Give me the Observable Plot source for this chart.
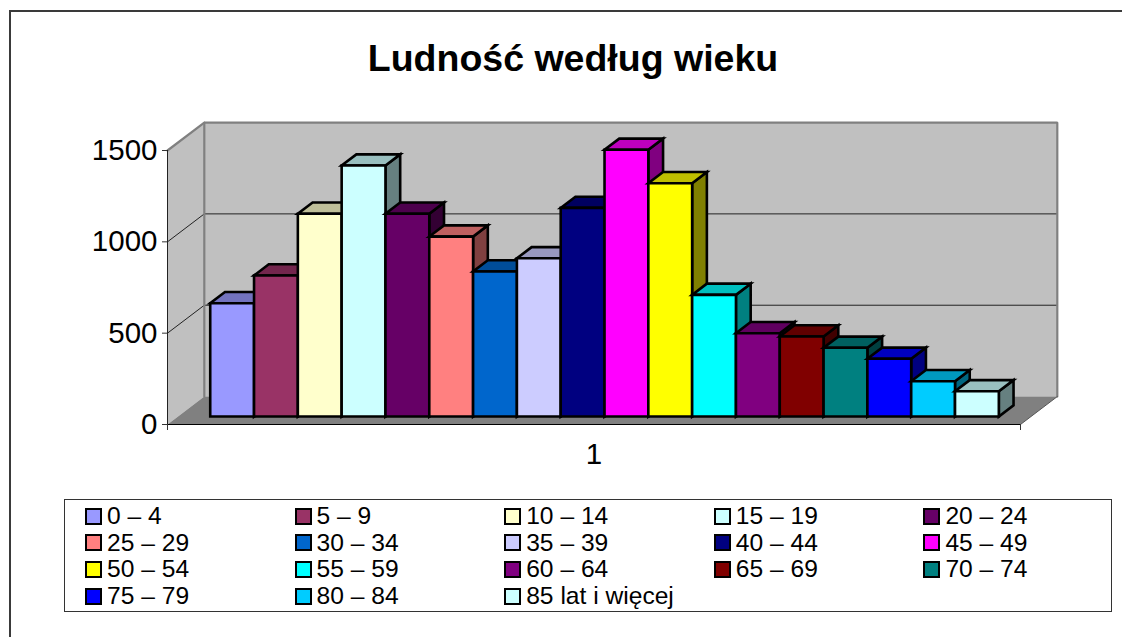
<!DOCTYPE html>
<html lang="pl">
<head>
<meta charset="utf-8">
<script src="https://cdn.jsdelivr.net/npm/d3@7"></script>
<script src="https://cdn.jsdelivr.net/npm/@observablehq/plot@0.6"></script>
<style>
  html, body { margin: 0; padding: 0; background: #fff; overflow: hidden; }
  body { font-family: "Liberation Sans", Arial, sans-serif; color: #000; }
  #page { position: relative; width: 1122px; height: 637px; overflow: hidden; }
  #frame { position: absolute; left: 9px; top: 10px; right: -10px; bottom: -10px; border: 2px solid #3a3a3a; }
  #title { position: absolute; left: 0; width: 1146px; top: 37px; margin: 0; text-align: center; font-size: 37.5px; line-height: 42px; font-weight: bold; }
  #chart { position: absolute; left: 0; top: 0; }
  #legend { position: absolute; left: 64px; top: 499px; width: 1048px; height: 113px; border: 1px solid #333;
            display: grid; grid-template-columns: repeat(5, 209.6px); grid-auto-rows: 26.6px; padding: 3px 0 0 20px; box-sizing: border-box; }
  .item { display: flex; align-items: center; font-size: 24.6px; line-height: 26px; white-space: nowrap; }
  .sw { width: 13px; height: 13px; border: 2px solid #000; margin-right: 5px; flex: none; }
</style>
</head>
<body>
<div id="page">
  <div id="frame"></div>
  <h1 id="title">Ludność według wieku</h1>
  <div id="chart"></div>
  <div id="legend"></div>
</div>
<script>
const ageGroups = ["0 – 4","5 – 9","10 – 14","15 – 19","20 – 24","25 – 29","30 – 34","35 – 39","40 – 44","45 – 49","50 – 54","55 – 59","60 – 64","65 – 69","70 – 74","75 – 79","80 – 84","85 lat i więcej"];
const population = [620,772,1110,1374,1110,985,794,866,1142,1460,1277,666,456,438,376,316,193,138];
const barColors = ["#9999FF","#993366","#FFFFCC","#CCFFFF","#660066","#FF8080","#0066CC","#CCCCFF","#000080","#FF00FF","#FFFF00","#00FFFF","#800080","#800000","#008080","#0000FF","#00CCFF","#CCFFFF"];
const yTicks = [0,500,1000,1500];
const gridValues = [500,1000];
const categoryLabel = "1";

// oblique 3D frame, expressed in data units: u = series slots, v = value, d = depth 0..1
const uMax = 19.47, vMax = 1500;
const depthU = 0.84, depthV = 153;
const gap = 0.735, barD0 = 0.286, barD1 = 0.686;
const P = (u, v, d) => ({x: u + d * depthU, y: v + d * depthV});
const poly = (id, fill, pts) => pts.map(([u, v, d]) => ({id, fill, ...P(u, v, d)}));
const shade = (c, k) => { const r = d3.rgb(c); return d3.rgb(r.r * k, r.g * k, r.b * k).formatHex(); };

const walls = [
  ...poly("side", "#c0c0c0", [[0,0,0],[0,vMax,0],[0,vMax,1],[0,0,1]]),
  ...poly("back", "#c0c0c0", [[0,0,1],[0,vMax,1],[uMax,vMax,1],[uMax,0,1]]),
  ...poly("floor", "#808080", [[0,0,0],[0,0,1],[uMax,0,1],[uMax,0,0]])
];
const wallEdges = [
  ...poly("e1", "none", [[0,0,1],[0,vMax,1],[uMax,vMax,1],[uMax,0,1]]),
  ...poly("e2", "none", [[0,vMax,0],[0,vMax,1]])
];
const gridPts = gridValues.flatMap(v => poly("g" + v, "none", [[0,v,0],[0,v,1],[uMax,v,1]]));
const floorEdge = poly("fe", "none", [[uMax,0,0],[uMax,0,1]]);

const faces = population.flatMap((v, i) => {
  const a = gap + i, b = a + 1, c = barColors[i];
  return [
    ...poly(i + "r", shade(c, 0.5), [[b,0,barD0],[b,v,barD0],[b,v,barD1],[b,0,barD1]]),
    ...poly(i + "t", shade(c, 0.75), [[a,v,barD0],[b,v,barD0],[b,v,barD1],[a,v,barD1]]),
    ...poly(i + "f", c, [[a,0,barD0],[a,v,barD0],[b,v,barD0],[b,0,barD0]])
  ];
});

const chart = Plot.plot({
  width: 1122,
  height: 490,
  marginLeft: 167,
  marginRight: 102,
  marginTop: 150,
  marginBottom: 66,
  x: {domain: [0, uMax]},
  y: {domain: [0, vMax]},
  style: {fontFamily: "'Liberation Sans', Arial, sans-serif", fontSize: "29px", background: "transparent", color: "#000", overflow: "visible"},
  marks: [
    Plot.line(walls, {x: "x", y: "y", z: "id", fill: "fill", stroke: "none", curve: "linear-closed"}),
    Plot.line(gridPts, {x: "x", y: "y", z: "id", stroke: "#222", strokeWidth: 1}),
    Plot.line(wallEdges, {x: "x", y: "y", z: "id", stroke: "#808080", strokeWidth: 2.2, strokeLinejoin: "miter"}),
    Plot.line(floorEdge, {x: "x", y: "y", z: "id", stroke: "#555", strokeWidth: 1}),
    Plot.ruleY([0], {x1: 0, x2: uMax, stroke: "#000", strokeWidth: 1}),
    Plot.ruleX([0], {y1: 0, y2: vMax, stroke: "#222", strokeWidth: 1}),
    Plot.axisY({ticks: yTicks, tickSize: 5, tickPadding: 5, label: null, tickFormat: d => String(d), fontSize: 29.5, stroke: "#333"}),
    Plot.axisX({ticks: [0, uMax], tickSize: 6, tickFormat: () => "", label: null, stroke: "#333"}),
    Plot.axisX({ticks: [uMax / 2], tickSize: 0, tickPadding: 19, tickFormat: () => categoryLabel, label: null, fontSize: 29.5}),
    Plot.line(faces, {x: "x", y: "y", z: "id", fill: "fill", stroke: "#000", strokeWidth: 2.6, curve: "linear-closed", strokeLinejoin: "miter", strokeMiterlimit: 4})
  ]
});
document.getElementById("chart").appendChild(chart);

const legend = document.getElementById("legend");
ageGroups.forEach((label, i) => {
  const item = document.createElement("div");
  item.className = "item";
  const sw = document.createElement("span");
  sw.className = "sw";
  sw.style.background = barColors[i];
  item.appendChild(sw);
  item.appendChild(document.createTextNode(label));
  legend.appendChild(item);
});
</script>
</body>
</html>
